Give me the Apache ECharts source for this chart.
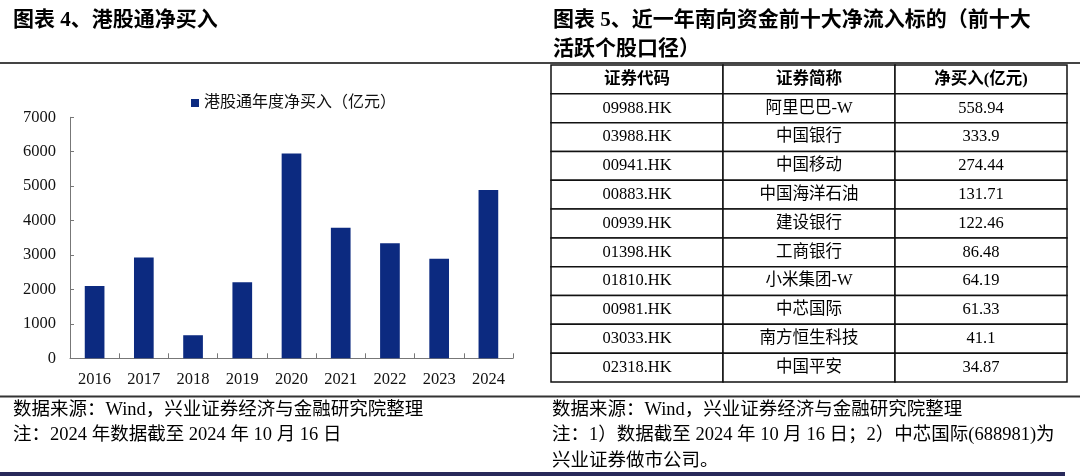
<!DOCTYPE html>
<html><head><meta charset="utf-8">
<script src="https://cdn.jsdelivr.net/npm/echarts@6/dist/echarts.min.js"></script>
<style>html,body{margin:0;padding:0;background:#fff}#c{width:1080px;height:476px}</style>
</head><body><div id="c"></div>
<script>
// ---- data ----
const years = ['2016','2017','2018','2019','2020','2021','2022','2023','2024'];
const netBuy = [2100, 2930, 670, 2210, 5950, 3790, 3340, 2890, 4890];
const seriesName = '港股通年度净买入（亿元）';
const tableHeader = ['证券代码','证券简称','净买入(亿元)'];
const codes = ['09988.HK','03988.HK','00941.HK','00883.HK','00939.HK','01398.HK','01810.HK','00981.HK','03033.HK','02318.HK'];
const names = ['阿里巴巴-W','中国银行','中国移动','中国海洋石油','建设银行','工商银行','小米集团-W','中芯国际','南方恒生科技','中国平安'];
const amounts = ['558.94','333.9','274.44','131.71','122.46','86.48','64.19','61.33','41.1','34.87'];
const titleLeft = '图表 4、港股通净买入';
const titleRight1 = '图表 5、近一年南向资金前十大净流入标的（前十大';
const titleRight2 = '活跃个股口径）';
const srcText = '数据来源：Wind，兴业证券经济与金融研究院整理';
const noteLeft = '注：2024 年数据截至 2024 年 10 月 16 日';
const noteRight1 = '注：1）数据截至 2024 年 10 月 16 日；2）中芯国际(688981)为';
const noteRight2 = '兴业证券做市公司。';

const FONT = '"Liberation Serif", "Noto Sans CJK SC", serif';
const chart = echarts.init(document.getElementById('c'), null, {renderer: 'canvas'});

const columns = [codes, names, amounts];
const rowIdx = ['h'].concat(codes.map((_, i) => 'r' + i));
const cells = [];
for (let r = 0; r < rowIdx.length; r++) for (let c = 0; c < 3; c++) cells.push([c, r]);

function txt(x, y, text, size, bold) {
  return {type: 'text', x: x, y: y, silent: true,
    style: {text: text, fill: '#000', font: (bold ? 'bold ' : '') + size + 'px ' + FONT, verticalAlign: 'middle'}};
}

chart.setOption({
  animation: false,
  backgroundColor: '#fff',
  textStyle: {fontFamily: FONT},
  legend: {
    data: [seriesName], left: 186, top: 90, icon: 'rect', itemWidth: 8, itemHeight: 8, itemGap: 5,
    textStyle: {fontSize: 16, color: '#111', fontFamily: FONT}
  },
  grid: [
    {left: 70, top: 117.3, width: 443, height: 241},
    {left: 551, top: 65, width: 516, height: 317}
  ],
  xAxis: [
    {type: 'category', data: years, gridIndex: 0,
      axisLine: {lineStyle: {color: '#777', width: 1}},
      axisTick: {show: true, inside: true, length: 5, lineStyle: {color: '#777'}},
      axisLabel: {fontSize: 16.5, color: '#111', margin: 13, fontFamily: FONT}},
    {type: 'category', data: tableHeader, gridIndex: 1, show: false}
  ],
  yAxis: [
    {type: 'value', min: 0, max: 7000, interval: 1000, gridIndex: 0,
      axisLine: {show: true, lineStyle: {color: '#777', width: 1}},
      axisTick: {show: true, inside: true, length: 4, lineStyle: {color: '#777'}},
      splitLine: {show: false},
      axisLabel: {fontSize: 16.5, color: '#111', margin: 14, fontFamily: FONT,
        formatter: function (v) { return String(v); }}},
    {type: 'category', data: rowIdx, gridIndex: 1, inverse: true, show: false}
  ],
  series: [
    {name: seriesName, type: 'bar', data: netBuy, xAxisIndex: 0, yAxisIndex: 0,
      barWidth: '40%', itemStyle: {color: '#0c2a80'}},
    {type: 'custom', xAxisIndex: 1, yAxisIndex: 1, data: cells, silent: true,
      renderItem: function (params, api) {
        const c = api.value(0), r = api.value(1);
        const pt = api.coord([c, r]);
        const sz = api.size([1, 1]);
        const text = r === 0 ? tableHeader[c] : columns[c][r - 1];
        return {type: 'group', children: [
          {type: 'rect', shape: {x: pt[0] - sz[0] / 2, y: pt[1] - sz[1] / 2, width: sz[0], height: sz[1]},
            style: {fill: '#fff', stroke: '#111', lineWidth: 1.5}},
          {type: 'text', x: pt[0], y: pt[1],
            style: {text: text, fill: '#000', align: 'center', verticalAlign: 'middle',
              font: (r === 0 ? 'bold ' : '') + '16.5px ' + FONT}}
        ]};
      }}
  ],
  graphic: [
    txt(13, 21, titleLeft, 21, true),
    txt(553, 21, titleRight1, 21, true),
    txt(553, 50, titleRight2, 21, true),
    {type: 'rect', shape: {x: 0, y: 62, width: 1080, height: 2}, style: {fill: '#444'}, silent: true},
    {type: 'rect', shape: {x: 0, y: 395.5, width: 1080, height: 2}, style: {fill: '#333'}, silent: true},
    {type: 'rect', shape: {x: 0, y: 472, width: 1065, height: 4}, style: {fill: '#28295a'}, silent: true},
    txt(13, 410, srcText, 18.5, false),
    txt(13, 435, noteLeft, 18.5, false),
    txt(552, 410, srcText, 18.5, false),
    txt(552, 435, noteRight1, 18.5, false),
    txt(552, 461, noteRight2, 18.5, false)
  ]
});
</script></body></html>
